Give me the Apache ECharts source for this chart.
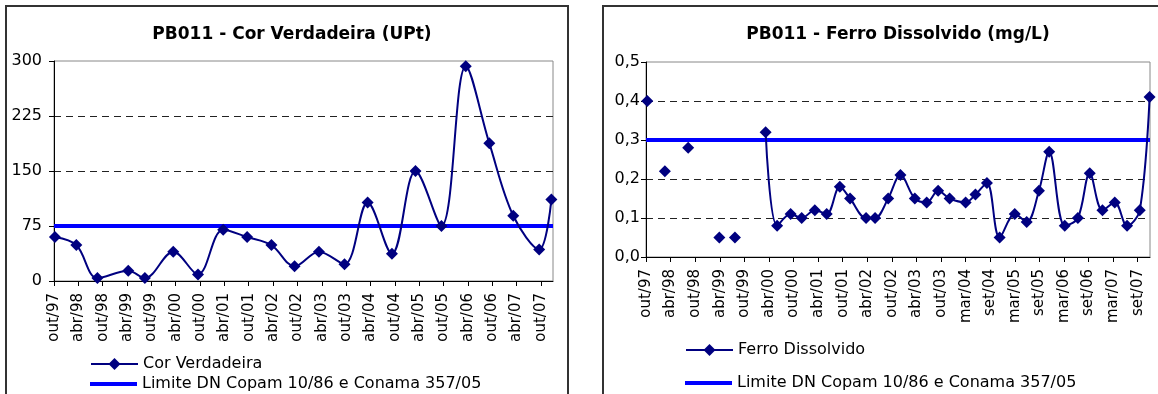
<!DOCTYPE html>
<html><head><meta charset="utf-8">
<script src="https://cdn.jsdelivr.net/npm/echarts@6/dist/echarts.min.js"></script>
<style>html,body{margin:0;padding:0;background:#fff;}#c{width:1158px;height:394px;}</style>
</head><body><div id="c"></div>
<script>
// ---------- DATA ----------
const corTitle = 'PB011 - Cor Verdadeira (UPt)';
const ferroTitle = 'PB011 - Ferro Dissolvido (mg/L)';
const corName = 'Cor Verdadeira';
const ferroName = 'Ferro Dissolvido';
const limitName = 'Limite DN Copam 10/86 e Conama 357/05';

const corDates = ["1997-10-08","1998-03-16","1998-08-22","1999-04-10","1999-08-13","2000-03-13","2000-09-16","2001-03-22","2001-09-19","2002-03-19","2002-09-10","2003-03-10","2003-09-19","2004-03-10","2004-09-10","2005-03-04","2005-09-16","2006-03-16","2006-09-10","2007-03-07","2007-09-19","2007-12-19"];
const corValues = [60,49,4,14,4,40,9,70,60,49,20,40,23,107,37,150,75,293,188,89,43,111];
const corLimit = 75;
const corYTicks = [0,75,150,225,300];
const corTickLabels = ["out/97","abr/98","out/98","abr/99","out/99","abr/00","out/00","abr/01","out/01","abr/02","out/02","abr/03","out/03","abr/04","out/04","abr/05","out/05","abr/06","out/06","abr/07","out/07"];

// null = no measurement (line is broken there)
const ferroDates = ["1997-10-10","1997-12-15","1998-02-19","1998-05-15","1998-08-10","1998-12-01","1999-03-28","1999-05-25","1999-07-22","1999-11-01","2000-03-07","2000-06-01","2000-09-10","2000-12-01","2001-03-07","2001-06-04","2001-09-10","2001-11-25","2002-03-22","2002-05-28","2002-09-04","2002-12-04","2003-03-19","2003-06-16","2003-09-10","2003-12-04","2004-04-01","2004-06-13","2004-09-07","2004-12-10","2005-04-01","2005-06-28","2005-09-28","2005-12-13","2006-04-07","2006-07-13","2006-10-10","2007-01-13","2007-04-13","2007-07-13","2007-10-16","2007-12-28"];
const ferroValues = [0.40,null,0.22,null,0.28,null,0.05,null,0.05,null,0.32,0.08,0.11,0.10,0.12,0.11,0.18,0.15,0.10,0.10,0.15,0.21,0.15,0.14,0.17,0.15,0.14,0.16,0.19,0.05,0.11,0.09,0.17,0.27,0.08,0.10,0.215,0.12,0.14,0.08,0.12,0.41];
const ferroLimit = 0.3;
const ferroYTicks = [0,0.1,0.2,0.3,0.4,0.5];
const ferroTickLabels = ["out/97","abr/98","out/98","abr/99","out/99","abr/00","out/00","abr/01","out/01","abr/02","out/02","abr/03","out/03","mar/04","set/04","mar/05","set/05","mar/06","set/06","mar/07","set/07"];

const axisStartDate = "1997-10-01";
const axisEndDate = "2008-01-01";
const tickStepMonths = 6;

// ---------- helpers ----------
function toMonths(s){
  const [y,m,d] = s.split('-').map(Number);
  const [y0,m0] = axisStartDate.split('-').map(Number);
  return (y-y0)*12 + (m-m0) + (d-1)/30;
}
const xMax = toMonths(axisEndDate);
const corData = corDates.map((d,i)=>[toMonths(d), corValues[i]]);
const ferroData = ferroDates.map((d,i)=>[toMonths(d), ferroValues[i]]);
const corTickVals = corTickLabels.map((_,i)=>i*tickStepMonths);
const ferroTickVals = ferroTickLabels.map((_,i)=>i*tickStepMonths);

const FONT = 'DejaVu Sans';
const NAVY = '#000080';
const BLUE = '#0000FF';

function xAxisCfg(gridIndex, labels, vals){
  return {
    type:'value', gridIndex, min:0, max:xMax, interval:tickStepMonths,
    axisLine:{show:true, onZero:false, lineStyle:{color:'#000', width:1}},
    axisTick:{show:true, inside:false, length:5, lineStyle:{color:'#000'}, customValues: vals},
    axisLabel:{rotate:90, margin:12, fontFamily:FONT, fontSize:15, color:'#000',
      customValues: vals,
      formatter:(v)=>{ const i=Math.round(v/tickStepMonths); return (Math.abs(v-i*tickStepMonths)<1e-6 && labels[i])?labels[i]:''; }},
    splitLine:{show:false}
  };
}
function yAxisCfg(gridIndex, ticks, fmt, margin){
  return {
    type:'value', gridIndex, min:ticks[0], max:ticks[ticks.length-1], interval:ticks[1]-ticks[0],
    axisLine:{show:true, lineStyle:{color:'#000', width:1}},
    axisTick:{show:true, inside:false, length:5, lineStyle:{color:'#000'}},
    axisLabel:{margin, fontFamily:FONT, fontSize:16, color:'#000', formatter:fmt},
    splitLine:{show:true, showMinLine:false, showMaxLine:false, lineStyle:{color:'#222', type:[7,5], width:1}}
  };
}
function legendCfg(name, left, top, isLimit){
  const cfg = {data:[isLimit ? {name, icon:'rect'} : name], left, top, orient:'vertical', itemWidth:47,
    itemHeight: isLimit ? 4 : 15, itemGap:0,
    selectedMode:false, textStyle:{fontFamily:FONT, fontSize:16, color:'#000', lineHeight:16}};
  if (isLimit) cfg.itemStyle = {color:BLUE};
  return cfg;
}

const chart = echarts.init(document.getElementById('c'), null, {renderer:'canvas'});
chart.setOption({
  animation:false,
  backgroundColor:'#fff',
  title:[
    {text:corTitle, left:287, top:21, textAlign:'center', textStyle:{fontFamily:FONT, fontSize:17, fontWeight:'bold', color:'#000'}},
    {text:ferroTitle, left:893, top:21, textAlign:'center', textStyle:{fontFamily:FONT, fontSize:17, fontWeight:'bold', color:'#000'}}
  ],
  graphic:[
    {type:'rect', shape:{x:6, y:6, width:562, height:420}, style:{fill:null, stroke:'#333', lineWidth:2}, silent:true, z:-1},
    {type:'rect', shape:{x:603, y:6, width:620, height:420}, style:{fill:null, stroke:'#333', lineWidth:2}, silent:true, z:-1}
  ],
  legend:[
    legendCfg(corName, 85, 351, false),
    legendCfg(limitName, 85, 371, true),
    legendCfg(ferroName, 680, 337, false),
    legendCfg(limitName, 680, 370, true)
  ],
  grid:[
    {left:54, top:61, width:499, height:220, show:true, borderColor:'#888', borderWidth:1, backgroundColor:'#fff', containLabel:false},
    {left:646, top:62, width:504, height:195, show:true, borderColor:'#888', borderWidth:1, backgroundColor:'#fff', containLabel:false}
  ],
  xAxis:[ xAxisCfg(0, corTickLabels, corTickVals), xAxisCfg(1, ferroTickLabels, ferroTickVals) ],
  yAxis:[
    yAxisCfg(0, corYTicks, (v)=>String(v), 12),
    yAxisCfg(1, ferroYTicks, (v)=>v.toFixed(1).replace('.', ','), 6)
  ],
  series:[
    {name:limitName, type:'line', xAxisIndex:0, yAxisIndex:0, data:[[0,corLimit],[xMax,corLimit]],
      symbol:'none', lineStyle:{color:BLUE, width:4}, itemStyle:{color:BLUE}, z:2, silent:true},
    {name:corName, type:'line', xAxisIndex:0, yAxisIndex:0, data:corData, smooth:0.35,
      symbol:'diamond', symbolSize:12, lineStyle:{color:NAVY, width:2}, itemStyle:{color:NAVY}, z:3, clip:false},
    {name:limitName, type:'line', xAxisIndex:1, yAxisIndex:1, data:[[0,ferroLimit],[xMax,ferroLimit]],
      symbol:'none', lineStyle:{color:BLUE, width:4}, itemStyle:{color:BLUE}, z:2, silent:true},
    {name:ferroName, type:'line', xAxisIndex:1, yAxisIndex:1, data:ferroData, smooth:0.35, connectNulls:false,
      symbol:'diamond', symbolSize:12, lineStyle:{color:NAVY, width:2}, itemStyle:{color:NAVY}, z:3, clip:false}
  ]
});
</script>
</body></html>
